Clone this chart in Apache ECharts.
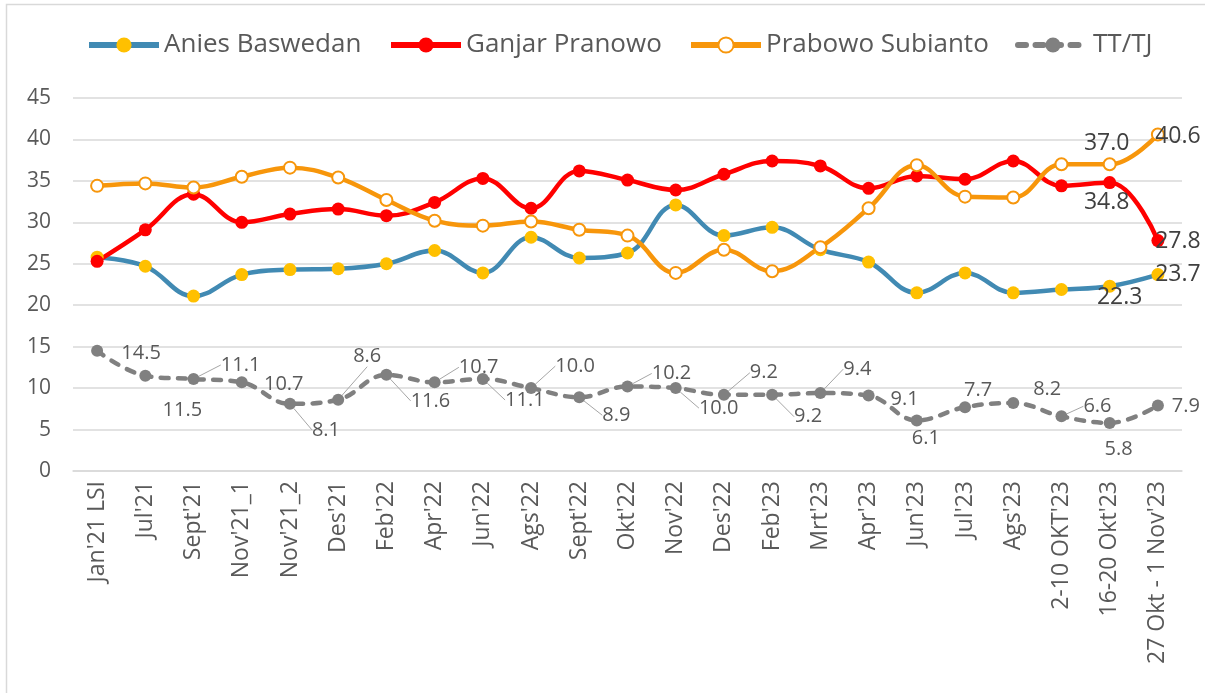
<!DOCTYPE html>
<html>
<head>
<meta charset="utf-8">
<script src="https://cdn.jsdelivr.net/npm/echarts@6/dist/echarts.min.js"></script>
<style>
html,body{margin:0;padding:0;background:#fff;}
#chart{width:1205px;height:693px;}
</style>
</head>
<body>
<div id="chart"></div>
<script>
// ---- data ----
var categories = ["Jan'21 LSI","Jul'21","Sept'21","Nov'21_1","Nov'21_2","Des'21","Feb'22","Apr'22","Jun'22","Ags'22","Sept'22","Okt'22","Nov'22","Des'22","Feb'23","Mrt'23","Apr'23","Jun'23","Jul'23","Ags'23","2-10 OKT'23","16-20 Okt'23","27 Okt - 1 Nov'23"];
var anies   = [25.8,24.7,21.1,23.7,24.3,24.4,25.0,26.6,23.9,28.2,25.7,26.3,32.1,28.4,29.4,26.7,25.2,21.5,23.9,21.5,21.9,22.3,23.7];
var ganjar  = [25.3,29.1,33.4,30.0,31.0,31.6,30.8,32.4,35.3,31.7,36.2,35.1,33.9,35.8,37.4,36.8,34.1,35.6,35.2,37.4,34.4,34.8,27.8];
var prabowo = [34.4,34.7,34.2,35.5,36.6,35.4,32.7,30.2,29.6,30.1,29.1,28.4,23.9,26.7,24.1,27.0,31.7,36.9,33.1,33.0,37.0,37.0,40.6];
var tttj    = [14.5,11.5,11.1,10.7,8.1,8.6,11.6,10.7,11.1,10.0,8.9,10.2,10.0,9.2,9.2,9.4,9.1,6.1,7.7,8.2,6.6,5.8,7.9];
var seriesNames = ['Anies Baswedan','Ganjar Pranowo','Prabowo Subianto','TT/TJ'];
var yTicks = {min:0, max:45, interval:5};

// ---- label styling (offsets of data labels from their points) ----
var ttOffsets = [[44,2],[37,35],[47,-14],[42,2],[36,26],[29,-43],[44,26],[44,-15],[42,21],[44,-22],[37,18],[44,-13],[43,20],[40,-22],[36,22],[37,-24],[36,4],[9,18],[13,-17],[34,-14],[36,-10],[9,26],[28,1]];
var ttLeader = [0,0,1,0,1,1,1,1,1,1,1,1,1,1,1,1,0,0,0,0,1,0,0];
var endOffsets = {
  0: {21:[10,11], 22:[20,0]},
  1: {21:[-3,20], 22:[20,1]},
  2: {21:[-3,-21], 22:[20,2]}
};

var FONT = "'Open Sans', 'Noto Sans', sans-serif";
var TXT = '#595959';

function endLabelData(values, si){
  return values.map(function(v,i){
    var off = endOffsets[si][i];
    if(off){
      return {value:v, label:{show:true, position:'inside', offset:off,
        formatter:function(p){return p.value.toFixed(1);},
        fontSize:23, color:'#404040', fontFamily:FONT}};
    }
    return {value:v};
  });
}

var chart = echarts.init(document.getElementById('chart'), null, {renderer:'canvas'});

var legendLefts = [81, 383, 683, 1010];
var legends = seriesNames.map(function(n,i){
  return {
    data:[n], left:legendLefts[i], top:27, itemWidth:70, itemHeight:19, itemGap:10,
    lineStyle:{width:6},
    textStyle:{fontSize:26, color:TXT, fontFamily:FONT}
  };
});

var option = {
  animation:false,
  backgroundColor:'#ffffff',
  graphic:[{type:'rect', silent:true, z:-10, shape:{x:6.5, y:4.5, width:1300, height:800},
    style:{fill:'none', stroke:'#D9D9D9', lineWidth:1.5}}],
  legend: legends,
  grid:{left:73, right:23, top:98, bottom:222, containLabel:false},
  xAxis:{
    type:'category', data:categories, boundaryGap:true,
    axisLine:{show:true, lineStyle:{color:'#D9D9D9', width:1.5}},
    axisTick:{show:false},
    axisLabel:{interval:0, rotate:90, margin:10, fontSize:23, color:TXT, fontFamily:FONT}
  },
  yAxis:{
    type:'value', min:yTicks.min, max:yTicks.max, interval:yTicks.interval,
    axisLine:{show:false}, axisTick:{show:false},
    axisLabel:{margin:22, fontSize:21, color:TXT, fontFamily:FONT},
    splitLine:{lineStyle:{color:'#D9D9D9', width:1.5}}
  },
  series:[
    {
      name:seriesNames[0], type:'line', smooth:0.4, data:endLabelData(anies,0),
      symbol:'circle', symbolSize:13,
      lineStyle:{color:'#418AB3', width:4.5},
      itemStyle:{color:'#FFC000', borderWidth:0}
    },
    {
      name:seriesNames[1], type:'line', smooth:0.4, data:endLabelData(ganjar,1),
      symbol:'circle', symbolSize:13,
      lineStyle:{color:'#FF0000', width:4.5},
      itemStyle:{color:'#FF0000', borderWidth:0}
    },
    {
      name:seriesNames[2], type:'line', smooth:0.4, data:endLabelData(prabowo,2),
      symbol:'circle', symbolSize:12,
      lineStyle:{color:'#F7960B', width:4.5},
      itemStyle:{color:'#FFFFFF', borderColor:'#F7960B', borderWidth:2}
    },
    {
      name:seriesNames[3], type:'line', smooth:0.4,
      data:tttj.map(function(v,i){ return {value:v, labelLine:{show:!!ttLeader[i]}}; }),
      symbol:'circle', symbolSize:12,
      lineStyle:{color:'#808080', width:4.5, type:[8,9.5], cap:'round'},
      itemStyle:{color:'#808080', borderWidth:0},
      label:{show:true, position:'inside', fontSize:20, color:TXT, fontFamily:FONT,
        formatter:function(p){return p.value.toFixed(1);}},
      labelLine:{show:true, lineStyle:{color:'#A6A6A6', width:1}},
      labelLayout:function(p){
        var o = ttOffsets[p.dataIndex];
        return {dx:o[0], dy:o[1]};
      }
    }
  ]
};
chart.setOption(option);
</script>
</body>
</html>
